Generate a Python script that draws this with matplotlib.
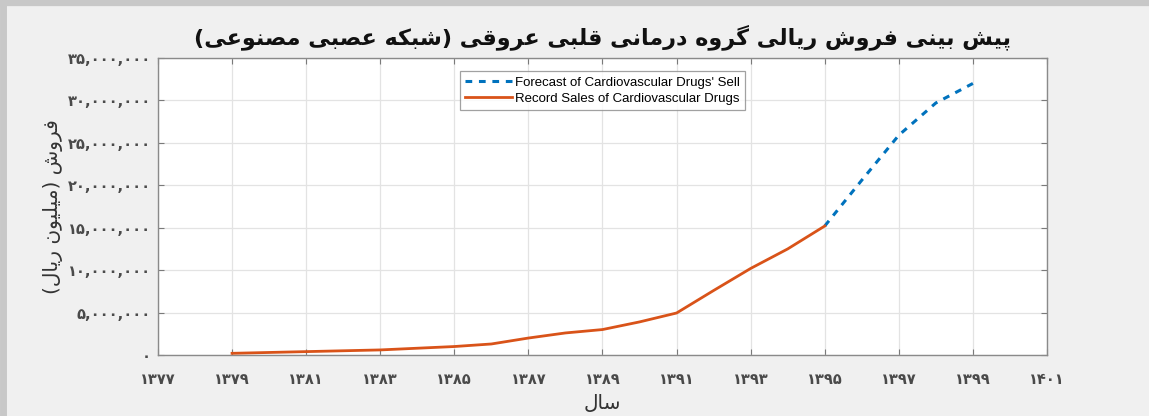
import numpy as np
import matplotlib
matplotlib.use("Agg")
import matplotlib.pyplot as plt
from matplotlib.lines import Line2D
from matplotlib.ticker import FuncFormatter

# --- data (years in the Persian calendar, sales in million rials) ---
record_years = [1379, 1380, 1381, 1382, 1383, 1384, 1385, 1386, 1387,
                1388, 1389, 1390, 1391, 1392, 1393, 1394, 1395]
record_sales = [200000, 300000, 400000, 500000, 600000, 800000, 1000000,
                1300000, 2000000, 2600000, 3000000, 3900000, 4950000,
                7600000, 10200000, 12500000, 15200000]
forecast_years = [1395, 1396, 1397, 1398, 1399]
forecast_sales = [15200000, 20600000, 25900000, 29700000, 32000000]

x_ticks = list(range(1377, 1402, 2))
y_ticks = list(range(0, 35000001, 5000000))

title_text = "پیش بینی فروش ریالی گروه درمانی قلبی عروقی (شبکه عصبی مصنوعی)"
ylabel_text = "فروش (میلیون ریال)"
xlabel_text = "سال"
legend_labels = ["Forecast of Cardiovascular Drugs' Sell",
                 "Record Sales of Cardiovascular Drugs"]

# --- tiny arabic/persian shaper (matplotlib has no text shaping) ---
FORMS = {
    'ا': (0xFE8D, 0xFE8E, None, None),
    'ب': (0xFE8F, 0xFE90, 0xFE91, 0xFE92),
    'پ': (0xFB56, 0xFB57, 0xFB58, 0xFB59),
    'د': (0xFEA9, 0xFEAA, None, None),
    'ر': (0xFEAD, 0xFEAE, None, None),
    'س': (0xFEB1, 0xFEB2, 0xFEB3, 0xFEB4),
    'ش': (0xFEB5, 0xFEB6, 0xFEB7, 0xFEB8),
    'ص': (0xFEB9, 0xFEBA, 0xFEBB, 0xFEBC),
    'ع': (0xFEC9, 0xFECA, 0xFECB, 0xFECC),
    'ف': (0xFED1, 0xFED2, 0xFED3, 0xFED4),
    'ق': (0xFED5, 0xFED6, 0xFED7, 0xFED8),
    'ک': (0xFB8E, 0xFB8F, 0xFB90, 0xFB91),
    'گ': (0xFB92, 0xFB93, 0xFB94, 0xFB95),
    'ل': (0xFEDD, 0xFEDE, 0xFEDF, 0xFEE0),
    'م': (0xFEE1, 0xFEE2, 0xFEE3, 0xFEE4),
    'ن': (0xFEE5, 0xFEE6, 0xFEE7, 0xFEE8),
    'و': (0xFEED, 0xFEEE, None, None),
    'ه': (0xFEE9, 0xFEEA, 0xFEEB, 0xFEEC),
    'ی': (0xFBFC, 0xFBFD, 0xFBFE, 0xFBFF),
}
MIRROR = {'(': ')', ')': '('}


def shape(text):
    out = []
    for i, c in enumerate(text):
        if c not in FORMS:
            out.append(MIRROR.get(c, c))
            continue
        prev = text[i - 1] if i > 0 else None
        nxt = text[i + 1] if i + 1 < len(text) else None
        iso, fin, ini, med = FORMS[c]
        join_prev = prev in FORMS and FORMS[prev][2] is not None
        join_next = ini is not None and nxt in FORMS
        if join_prev and join_next:
            g = med
        elif join_prev:
            g = fin
        elif join_next:
            g = ini
        else:
            g = iso
        out.append(chr(g))
    return ''.join(reversed(out))


FA_DIGITS = str.maketrans('0123456789', '۰۱۲۳۴۵۶۷۸۹')


def fa_num(v, pos=None):
    return f"{int(v):,}".translate(FA_DIGITS)


def fa_year(v, pos=None):
    return str(int(v)).translate(FA_DIGITS)


# --- figure ---
bg = '#f0f0f0'
fig = plt.figure(figsize=(11.49, 4.16), dpi=100, facecolor=bg)
ax = fig.add_axes([0.1375, 0.1466, 0.7737, 0.714])
ax.set_facecolor('white')

ax.plot(forecast_years, forecast_sales, color='#0072BD', lw=2.2,
        linestyle=(0, (2.2, 2.2)), label=legend_labels[0], zorder=3)
ax.plot(record_years, record_sales, color='#D95319', lw=2.0,
        label=legend_labels[1], zorder=4)

ax.set_xlim(1377, 1401)
ax.set_ylim(0, 35000000)
ax.set_xticks(x_ticks)
ax.set_yticks(y_ticks)
ax.xaxis.set_major_formatter(FuncFormatter(fa_year))
ax.yaxis.set_major_formatter(FuncFormatter(fa_num))

ax.grid(True, color='#e3e3e3', lw=0.9)
ax.set_axisbelow(True)
for s in ax.spines.values():
    s.set_color('#8a8a8a')
    s.set_linewidth(1.0)
ax.tick_params(direction='in', length=4, width=0.8, color='#7a7a7a',
               top=True, right=True, labelsize=10.5, labelcolor='#4a4a4a')
ax.tick_params(axis='x', pad=12)
ax.tick_params(axis='y', pad=5)
for lab in ax.get_xticklabels() + ax.get_yticklabels():
    lab.set_fontweight('bold')

ax.set_title(shape(title_text), fontsize=16, fontweight='bold',
             color='#111111', pad=10)
ax.set_ylabel(shape(ylabel_text), fontsize=14.5, color='#333333')
ax.yaxis.set_label_coords(-0.107, 0.5)
ax.set_xlabel(shape(xlabel_text), fontsize=14.5, color='#333333', labelpad=5)

leg = ax.legend(loc='upper center', bbox_to_anchor=(0.5, 0.955),
                prop={'family': 'Liberation Sans', 'size': 9.5},
                frameon=True, fancybox=False, edgecolor='#8a8a8a',
                handlelength=3.6, handletextpad=0.2, borderpad=0.4,
                labelspacing=0.3, borderaxespad=0.0)
leg.get_frame().set_linewidth(0.9)

# window frame (top and left edges only)
fig.add_artist(Line2D([0, 1], [0.993, 0.993], transform=fig.transFigure,
                      color='#c8c8c8', lw=4.5))
fig.add_artist(Line2D([0.003, 0.003], [0, 1], transform=fig.transFigure,
                      color='#c8c8c8', lw=5))

fig.savefig('out.png', dpi=100, facecolor=bg)
